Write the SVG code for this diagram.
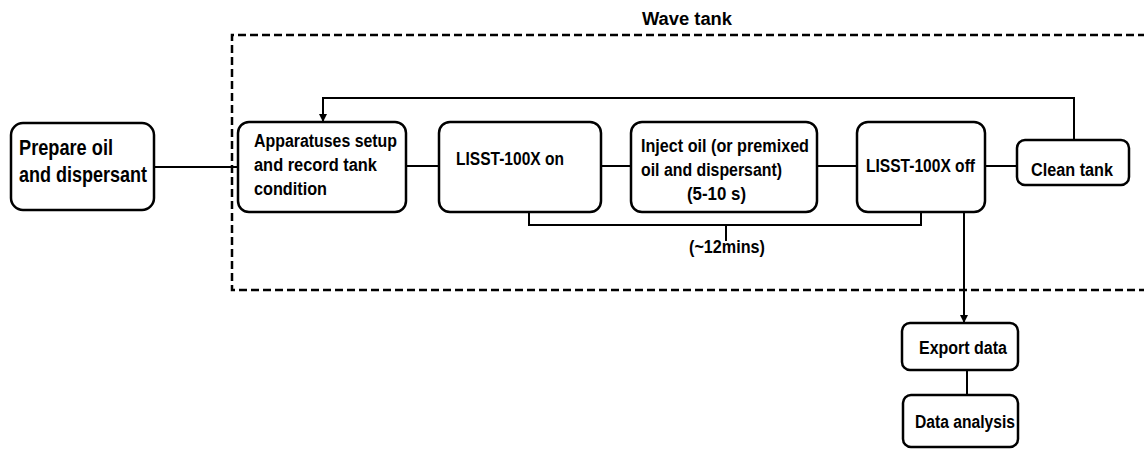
<svg xmlns="http://www.w3.org/2000/svg" width="1144" height="449" viewBox="0 0 1144 449">
<style>
.box{fill:#fff;stroke:#000;stroke-width:2.5}
.t{font-family:"Liberation Sans",Arial,sans-serif;font-weight:bold;font-size:18px;fill:#000}
.big{font-size:22px}
.c{fill:none;stroke:#000;stroke-width:2}
.dash{fill:none;stroke:#000;stroke-width:2.5;stroke-dasharray:8 4}
</style>
<defs>
<marker id="ah" markerWidth="8" markerHeight="8" refX="7" refY="4" orient="auto" markerUnits="userSpaceOnUse">
<path d="M0,0 L8,4 L0,8 Z" fill="#000"/>
</marker>
</defs>
<g id="wave-tank">
<path class="dash" d="M1146,35 H232 V290 H1146"/>
<text class="t" x="642" y="25" font-size="17" textLength="90" lengthAdjust="spacingAndGlyphs">Wave tank</text>
</g>
<g id="connectors">
<path class="c" d="M154,167 H238"/>
<path class="c" d="M406,166 H439"/>
<path class="c" d="M601,166 H631"/>
<path class="c" d="M817,166 H857"/>
<path class="c" d="M985,166 H1017"/>
<path class="c" d="M1074,140 V98 H323 V121" marker-end="url(#ah)"/>
<path class="c" d="M529,212 V225 H921 V212"/>
<path class="c" d="M726,225 V241"/>
<path class="c" d="M964,212 V322" marker-end="url(#ah)"/>
<path class="c" d="M967,370 V395"/>
<text class="t" x="689" y="253" textLength="76" lengthAdjust="spacingAndGlyphs">(~12mins)</text>
</g>
<g id="prepare">
<rect class="box" x="11" y="123" width="143" height="87" rx="12"/>
<text class="t big" x="19" y="155" textLength="94" lengthAdjust="spacingAndGlyphs">Prepare oil</text>
<text class="t big" x="19" y="182" textLength="128" lengthAdjust="spacingAndGlyphs">and dispersant</text>
</g>
<g id="apparatuses">
<rect class="box" x="238" y="122" width="168" height="90" rx="11"/>
<text class="t" x="254" y="147" textLength="143" lengthAdjust="spacingAndGlyphs">Apparatuses setup</text>
<text class="t" x="254" y="171" textLength="123" lengthAdjust="spacingAndGlyphs">and record tank</text>
<text class="t" x="254" y="195" textLength="73" lengthAdjust="spacingAndGlyphs">condition</text>
</g>
<g id="lisst-on">
<rect class="box" x="439" y="122" width="162" height="90" rx="11"/>
<text class="t" x="456" y="165" textLength="108" lengthAdjust="spacingAndGlyphs">LISST-100X on</text>
</g>
<g id="inject">
<rect class="box" x="631" y="122" width="186" height="90" rx="11"/>
<text class="t" x="641" y="152" textLength="168" lengthAdjust="spacingAndGlyphs">Inject oil (or premixed</text>
<text class="t" x="641" y="176" textLength="141" lengthAdjust="spacingAndGlyphs">oil and dispersant)</text>
<text class="t" x="687" y="200" textLength="59" lengthAdjust="spacingAndGlyphs">(5-10 s)</text>
</g>
<g id="lisst-off">
<rect class="box" x="857" y="122" width="128" height="90" rx="11"/>
<text class="t" x="866" y="172" textLength="109" lengthAdjust="spacingAndGlyphs">LISST-100X off</text>
</g>
<g id="clean">
<rect class="box" x="1017" y="140" width="112" height="45" rx="8"/>
<text class="t" x="1031" y="176" textLength="82" lengthAdjust="spacingAndGlyphs">Clean tank</text>
</g>
<g id="export">
<rect class="box" x="902" y="323" width="116" height="47" rx="8"/>
<text class="t" x="919" y="354" textLength="88" lengthAdjust="spacingAndGlyphs">Export data</text>
</g>
<g id="analysis">
<rect class="box" x="903" y="395" width="115" height="52" rx="8"/>
<text class="t" x="915" y="428" textLength="100" lengthAdjust="spacingAndGlyphs">Data analysis</text>
</g>
</svg>
